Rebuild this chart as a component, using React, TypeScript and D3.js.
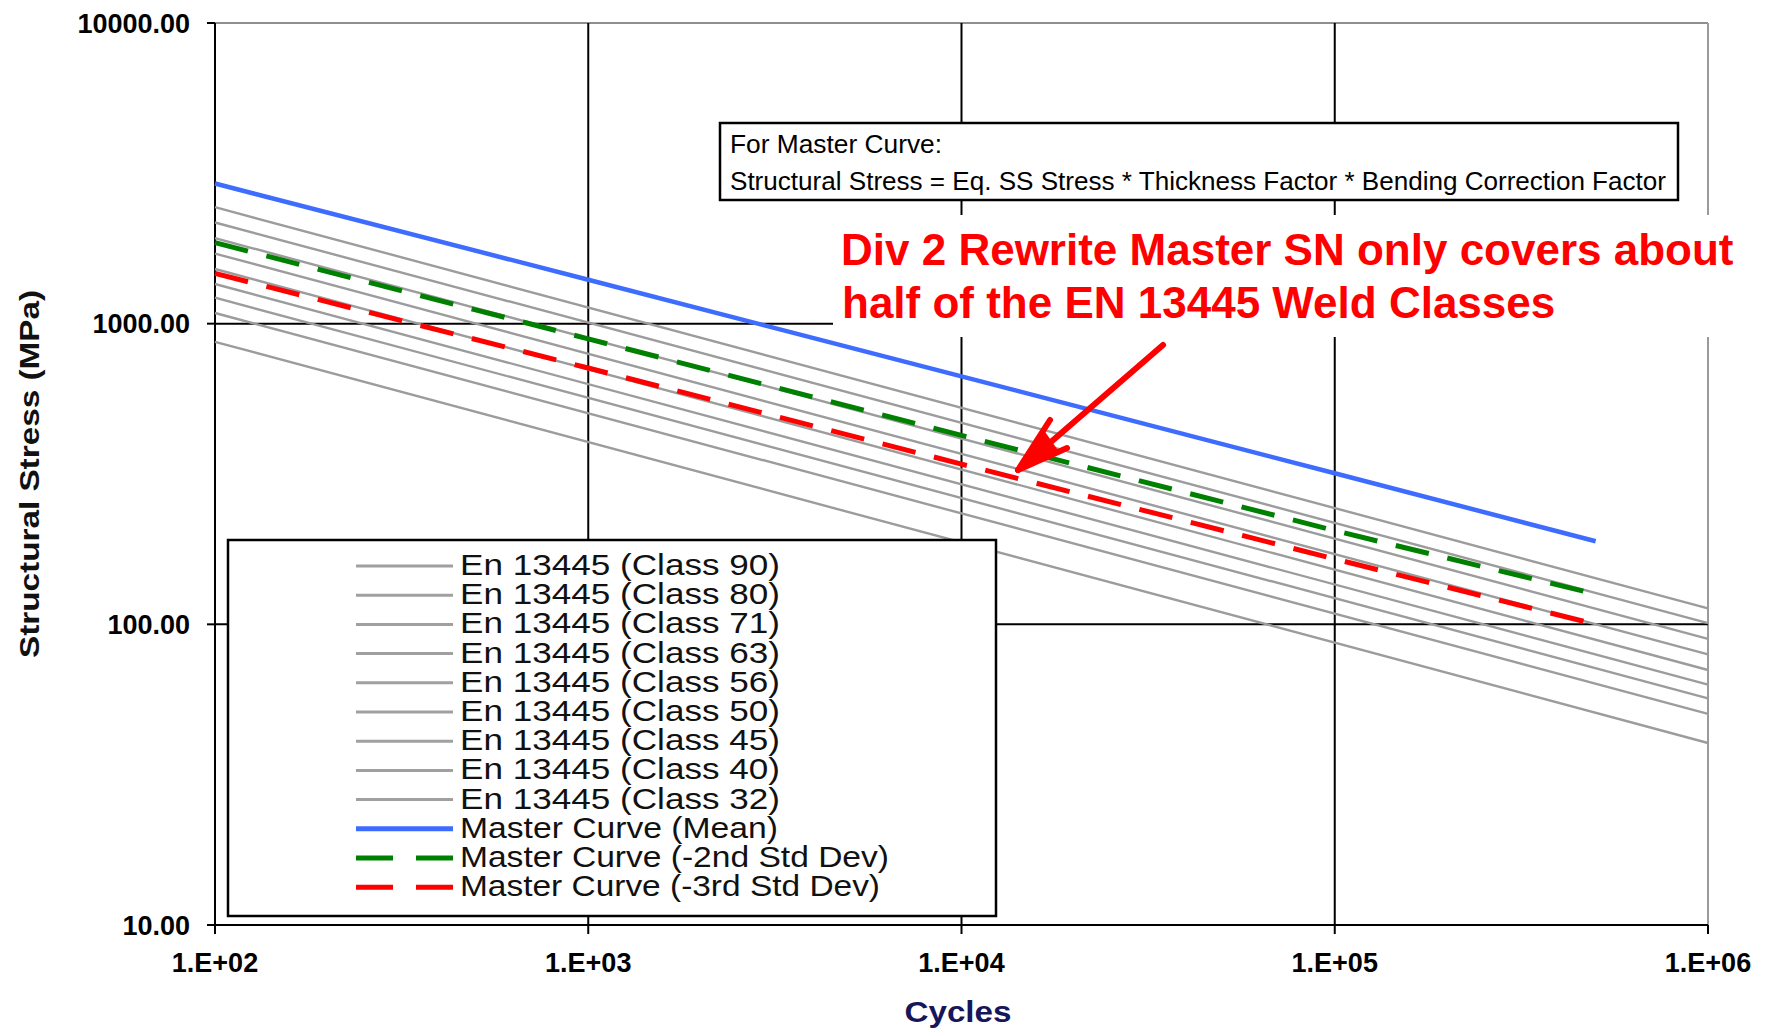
import React from "react";
import * as d3 from "d3";

// ---- data ----
const classes = [90, 80, 71, 63, 56, 50, 45, 40, 32];
const classCycles = [1e2, 1e6];
const classStressStart = [2440, 2170, 1925, 1710, 1520, 1355, 1220, 1085, 870];
const classStressEnd = [113, 101, 89.5, 79.5, 70.5, 63, 56.7, 50.4, 40.3];

const masterCycles = [1e2, 1e3, 1e4, 1e5, 5e5];
const masterMean = [2925, 1400, 668, 318, 189];
const masterMinus2 = [1860, 890, 425, 205, 126];
const masterMinus3 = [1470, 712, 341, 165, 100];

const xTicks = [1e2, 1e3, 1e4, 1e5, 1e6];
const xTickLabels = ["1.E+02", "1.E+03", "1.E+04", "1.E+05", "1.E+06"];
const yTicks = [10, 100, 1000, 10000];
const yTickLabels = ["10.00", "100.00", "1000.00", "10000.00"];
const xGrid = [1e3, 1e4, 1e5];
const yGrid = [100, 1000];

const masterLabels = [
  "Master Curve (Mean)",
  "Master Curve (-2nd Std Dev)",
  "Master Curve (-3rd Std Dev)",
];

const FONT = "'Liberation Sans', Arial, Helvetica, sans-serif";
const W = 1765;
const H = 1028;

export default function App() {
  const x = d3.scaleLog().domain([1e2, 1e6]).range([215, 1708]);
  const y = d3.scaleLog().domain([10, 1e4]).range([925, 23]);
  const line = d3
    .line<[number, number]>()
    .x((d) => x(d[0]))
    .y((d) => y(d[1]));

  const classSeries = classes.map((c, i) => ({
    name: `En 13445 (Class ${c})`,
    pts: [
      [classCycles[0], classStressStart[i]],
      [classCycles[1], classStressEnd[i]],
    ] as [number, number][],
  }));

  const masterSeries = [
    { name: masterLabels[0], vals: masterMean, color: "#3d6cff", dash: undefined, w: 4.5, tl: 318 },
    { name: masterLabels[1], vals: masterMinus2, color: "#008000", dash: "34 19", w: 5, tl: 429 },
    { name: masterLabels[2], vals: masterMinus3, color: "#ff0000", dash: "34 19", w: 5, tl: 420 },
  ];

  const legendItems = [
    ...classSeries.map((s) => ({ name: s.name, color: "#a0a0a0", dash: undefined as string | undefined, w: 3, tl: 320 })),
    ...masterSeries.map((s) => ({ name: s.name, color: s.color, dash: s.dash ? "37 23" : undefined, w: 5, tl: s.tl })),
  ];

  const [x0, x1] = x.range();
  const [yb, yt] = y.range();

  return (
    <div style={{ position: "absolute", left: 0, top: 0, width: W, height: H }}>
      <svg width={W} height={H} style={{ display: "block", background: "#fff" }} fontFamily={FONT}>
        {/* plot border (top/right grey) */}
        <line x1={x0} x2={x1} y1={yt} y2={yt} stroke="#8f8f8f" strokeWidth={2} />
        <line x1={x1} x2={x1} y1={yt} y2={yb} stroke="#9a9a9a" strokeWidth={2} />

        {/* gridlines */}
        {xGrid.map((v) => (
          <line key={"gx" + v} x1={x(v)} x2={x(v)} y1={yt} y2={yb} stroke="#000" strokeWidth={2} />
        ))}
        {yGrid.map((v) => (
          <line key={"gy" + v} x1={x0} x2={x1} y1={y(v)} y2={y(v)} stroke="#000" strokeWidth={2} />
        ))}

        {/* axes */}
        <line x1={x0} x2={x0} y1={yt} y2={yb} stroke="#000" strokeWidth={2} />
        <line x1={x0} x2={x1} y1={yb} y2={yb} stroke="#000" strokeWidth={2} />
        {yTicks.map((v, i) => (
          <g key={"yt" + v}>
            <line x1={x0 - 8} x2={x0} y1={y(v)} y2={y(v)} stroke="#000" strokeWidth={2} />
            <text
              x={190}
              y={y(v)}
              dy="0.36em"
              textAnchor="end"
              fontSize={27}
              fontWeight="bold"
              fill="#000"
            >
              {yTickLabels[i]}
            </text>
          </g>
        ))}
        {xTicks.map((v, i) => (
          <g key={"xt" + v}>
            <line x1={x(v)} x2={x(v)} y1={yb} y2={yb + 9} stroke="#000" strokeWidth={2} />
            <text x={x(v)} y={972} textAnchor="middle" fontSize={27} fontWeight="bold" fill="#000">
              {xTickLabels[i]}
            </text>
          </g>
        ))}

        {/* axis titles */}
        <text
          transform={`translate(39,474) rotate(-90)`}
          textAnchor="middle"
          fontSize={28}
          fontWeight="bold"
          fill="#111"
          textLength={368}
          lengthAdjust="spacingAndGlyphs"
        >
          Structural Stress (MPa)
        </text>
        <text
          x={958}
          y={1022}
          textAnchor="middle"
          fontSize={29}
          fontWeight="bold"
          fill="#16165a"
          textLength={107}
          lengthAdjust="spacingAndGlyphs"
        >
          Cycles
        </text>

        {/* EN 13445 class curves */}
        {classSeries.map((s) => (
          <path key={s.name} d={line(s.pts) || ""} fill="none" stroke="#9c9c9c" strokeWidth={2.4} />
        ))}

        {/* master curves */}
        {masterSeries.map((s) => (
          <path
            key={s.name}
            d={line(masterCycles.map((n, i) => [n, s.vals[i]] as [number, number])) || ""}
            fill="none"
            stroke={s.color}
            strokeWidth={s.w}
            strokeDasharray={s.dash}
          />
        ))}

        {/* legend */}
        <rect x={228} y={540} width={768} height={376} fill="#fff" stroke="#000" strokeWidth={2.5} />
        {legendItems.map((it, i) => {
          const ly = 566 + i * 29.2;
          return (
            <g key={"lg" + i}>
              <line
                x1={356}
                x2={453}
                y1={ly}
                y2={ly}
                stroke={it.color}
                strokeWidth={it.w}
                strokeDasharray={it.dash}
              />
              <text
                x={460}
                y={ly + 9}
                fontSize={30}
                fill="#111"
                textLength={it.tl}
                lengthAdjust="spacingAndGlyphs"
              >
                {it.name}
              </text>
            </g>
          );
        })}

        {/* formula text box */}
        <rect x={720} y={123} width={958} height={77} fill="#fff" stroke="#000" strokeWidth={2.5} />
        <text x={730} y={153} fontSize={25} fill="#000" textLength={212} lengthAdjust="spacingAndGlyphs">
          For Master Curve:
        </text>
        <text x={730} y={190} fontSize={25} fill="#000" textLength={936} lengthAdjust="spacingAndGlyphs">
          {"Structural Stress = Eq. SS Stress * Thickness Factor *  Bending Correction Factor"}
        </text>

        {/* red annotation */}
        <rect x={833} y={215} width={925} height={122} fill="#fff" />
        <text x={841} y={265} fontSize={44} fontWeight="bold" fill="#ff0000">
          Div 2 Rewrite Master SN only covers about
        </text>
        <text x={842} y={318} fontSize={44} fontWeight="bold" fill="#ff0000">
          half of the EN 13445 Weld Classes
        </text>

        {/* arrow */}
        <g stroke="#ff0000" strokeWidth={6} strokeLinecap="round" fill="#ff0000">
          <line x1={1163} y1={345} x2={1022} y2={467} />
          <line x1={1050} y1={420} x2={1018} y2={470} />
          <line x1={1067} y1={448} x2={1018} y2={470} />
          <polygon points="1018,470 1044,432 1058,452" strokeWidth={2} />
        </g>
      </svg>
    </div>
  );
}
